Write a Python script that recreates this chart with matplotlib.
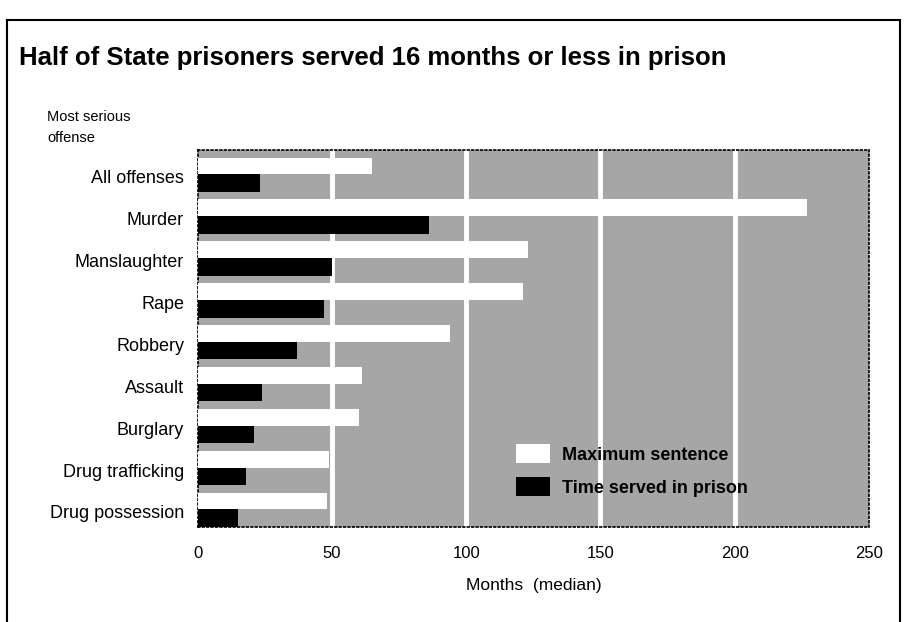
import numpy as np
import matplotlib.pyplot as plt
from matplotlib.lines import Line2D
from matplotlib.patches import Patch

plt.rcParams['font.family'] = ['Liberation Sans', 'DejaVu Sans']

offenses = ['All offenses', 'Murder', 'Manslaughter', 'Rape', 'Robbery',
            'Assault', 'Burglary', 'Drug trafficking', 'Drug possession']
max_sentence = [65, 227, 123, 121, 94, 61, 60, 49, 48]
time_served = [23, 86, 50, 47, 37, 24, 21, 18, 15]

fig = plt.figure(figsize=(9.06, 6.22), dpi=100)
ax = fig.add_axes([0.2185, 0.1527, 0.7405, 0.6061])
ax.set_facecolor('#a6a6a6')

y = np.arange(len(offenses))
ax.barh(y + 0.15, time_served, height=0.42, color='black', zorder=3)
ax.barh(y - 0.26, max_sentence, height=0.40, color='white', zorder=3)

ax.set_xlim(0, 250)
ax.set_ylim(8.36, -0.64)
ax.set_xticks([0, 50, 100, 150, 200, 250])
ax.set_yticks(y)
ax.set_yticklabels(offenses, fontsize=13)
ax.tick_params(axis='x', length=0, labelsize=12, pad=14)
ax.tick_params(axis='y', length=0, pad=10)
for xv in [50, 100, 150, 200]:
    ax.axvline(xv, color='white', lw=3.5, zorder=1)
for s in ax.spines.values():
    s.set_linestyle(':')
    s.set_linewidth(1.2)
    s.set_color('black')

ax.set_xlabel('Months  (median)', fontsize=12.5, labelpad=12)

handles = [Patch(facecolor='white', edgecolor='none', label='Maximum sentence'),
           Patch(facecolor='black', edgecolor='none', label='Time served in prison')]
ax.legend(handles=handles, frameon=False, loc='upper left',
          bbox_to_anchor=(0.45, 0.262), prop={'weight': 'bold', 'size': 13},
          handlelength=1.85, handleheight=1.2, handletextpad=0.7, labelspacing=0.75)

fig.text(0.021, 0.906, 'Half of State prisoners served 16 months or less in prison',
         fontsize=18.5, fontweight='bold', va='center', ha='left')
fig.text(0.052, 0.795, 'Most serious\noffense', fontsize=10.5, va='center',
         ha='left', linespacing=1.6)

# page frame
fig.add_artist(Line2D([0.008, 0.008], [0, 0.968], color='black', lw=1.5))
fig.add_artist(Line2D([0.008, 0.993], [0.968, 0.968], color='black', lw=1.5))
fig.add_artist(Line2D([0.993, 0.993], [0, 0.968], color='black', lw=1.5))

fig.savefig('out.png', dpi=100)
